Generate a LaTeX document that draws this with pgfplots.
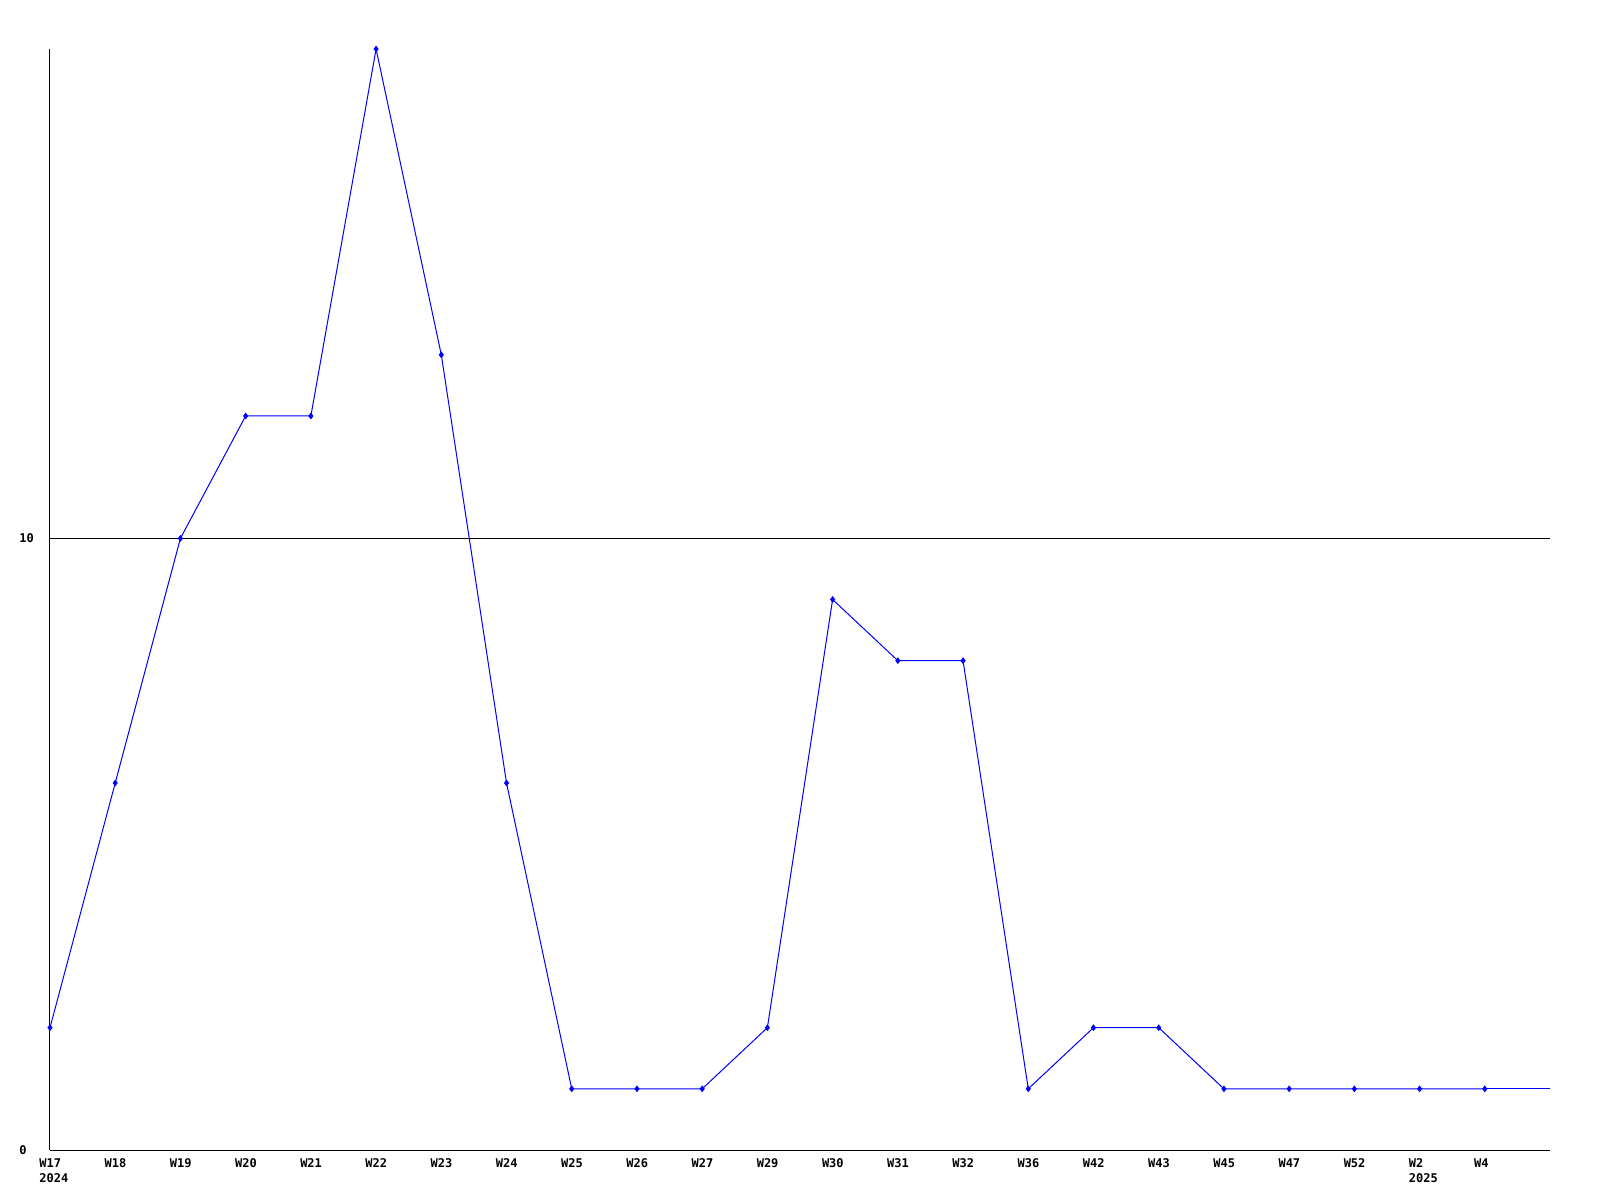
\documentclass[border=0pt]{standalone}
\usepackage{pgfplots}
\pgfplotsset{compat=1.18}
\usepackage{fontspec}
\setmonofont{DejaVu Sans Mono}
\begin{document}
\begin{tikzpicture}
\begin{axis}[
  name=ax,
  scale only axis,
  width=750pt, height=550.5pt,
  xmin=0, xmax=23, ymin=0, ymax=18,
  axis x line*=bottom, axis y line*=left,
  axis line style={black, line width=0.5pt, -},
  xtick={0,...,22},
  xticklabels={{W17\\2024},W18,W19,W20,W21,W22,W23,W24,W25,W26,W27,W29,W30,W31,W32,W36,W42,W43,W45,W47,W52,{W2\\2025},W4},
  ytick={0,10},
  major tick length=0pt,
  ymajorgrids,
  grid style={black, line width=0.5pt},
  tick label style={font=\ttfamily\bfseries\fontsize{6}{7.5}\selectfont, inner xsep=0pt},
  xticklabel style={anchor=north west, align=left, xshift=-5.5pt, yshift=-1pt},
  yticklabel style={anchor=west, xshift=-15.5pt},
  /pgf/number format/assume math mode=true,
  clip=false,
]
\addplot[color={rgb,255:red,0;green,0;blue,255}, line width=0.5pt, mark=diamond*, mark size=1.3pt, mark options={fill={rgb,255:red,0;green,0;blue,255}}] coordinates {
(0,2) (1,6) (2,10) (3,12) (4,12) (5,18) (6,13) (7,6) (8,1) (9,1) (10,1) (11,2) (12,9) (13,8) (14,8) (15,1) (16,2) (17,2) (18,1) (19,1) (20,1) (21,1) (22,1)
};
\addplot[color={rgb,255:red,0;green,0;blue,255}, line width=0.5pt, no markers] coordinates {(22,1) (23,1)};
\end{axis}
\pgfresetboundingbox
\path (ax.south west) ++(-25pt,-25pt) rectangle ([shift={(25pt,24.5pt)}]ax.north east);
\end{tikzpicture}
\end{document}
